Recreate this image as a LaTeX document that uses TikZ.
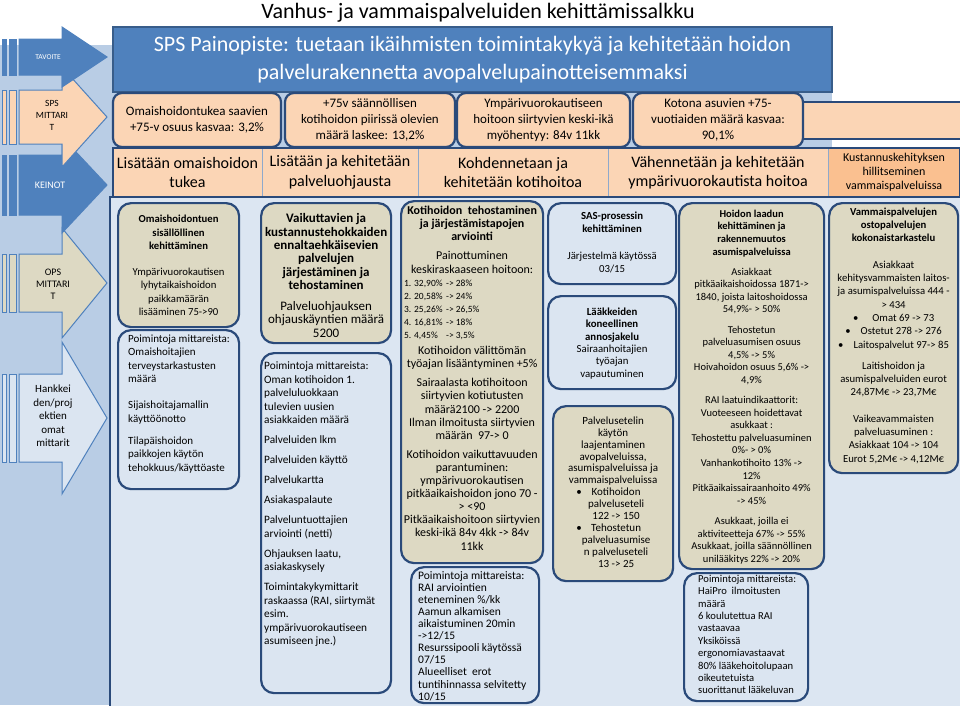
\documentclass[tikz,border=0pt]{standalone}
\usepackage{fontspec}
\setmainfont{Carlito}
\usepackage{xcolor}
\usepackage{tikz}
\usetikzlibrary{calc, positioning}

\definecolor{goalblue}{HTML}{4F81BD}
\definecolor{goalline}{HTML}{385D8A}
\definecolor{navyline}{HTML}{2A4A7A}
\definecolor{peachfill}{HTML}{FBD5B5}
\definecolor{peachdeep}{HTML}{FAC090}
\definecolor{tanfill}{HTML}{DDD9C3}
\definecolor{mistfill}{HTML}{DBE5F1}
\definecolor{panelfill}{HTML}{DCE6F2}
\definecolor{sidefill}{HTML}{B9CDE5}
\definecolor{cellline}{HTML}{8EA9CC}

\newcommand{\fsz}[2]{\fontsize{#1}{#2}\selectfont}

\begin{document}
\begin{tikzpicture}[
    x=1pt, y=-1pt,
    goal_box/.style={rectangle, draw=goalline, line width=1.2pt, fill=goalblue, text=white, align=center, font=\fsz{22}{28}},
    meter_box/.style={rectangle, rounded corners=9pt, draw=navyline, line width=2.2pt, fill=peachfill, minimum height=54pt, align=center, font=\fsz{13}{16}},
    means_cell/.style={rectangle, draw=cellline, line width=0.6pt, fill=peachfill, minimum height=49pt, align=center, font=\fsz{16}{19.5}},
    tan_box/.style={rectangle, rounded corners=13pt, draw=navyline, line width=2.2pt, fill=tanfill, anchor=north west},
    mist_box/.style={rectangle, rounded corners=13pt, draw=navyline, line width=2.2pt, fill=mistfill, anchor=north west},
    box_txt/.style={inner sep=0pt, align=center, anchor=north},
    list_txt/.style={inner sep=0pt, align=left, anchor=north west},
    side_arrow/.style={draw=goalblue, line width=1pt},
    side_txt/.style={inner sep=0pt, align=center}
]
    \useasboundingbox (0,0) rectangle (960,705);

    % ---------------- backgrounds ----------------
    \fill[sidefill] (0,45) rectangle (832,148);
    \fill[sidefill] (0,148) rectangle (113,705);
    \draw[fill=panelfill, draw=navyline, line width=1.2pt] (110,197) rectangle (962,707);

    % ---------------- left column arrows ----------------
    \foreach \cy/\bh/\hh/\tone in {418/44/76/mistfill, 283/29/55/tanfill, 185/30/48/goalblue, 117/27/50/peachfill, 57/18/30/goalblue}{
        \filldraw[side_arrow, fill=\tone] (2,{\cy-\bh}) rectangle (6,{\cy+\bh});
        \filldraw[side_arrow, fill=\tone] (9,{\cy-\bh}) rectangle (16,{\cy+\bh});
        \filldraw[side_arrow, fill=\tone] (19,{\cy-\bh}) -- (62,{\cy-\bh}) -- (62,{\cy-\hh}) -- (107,\cy) -- (62,{\cy+\hh}) -- (62,{\cy+\bh}) -- (19,{\cy+\bh}) -- cycle;
    }
    \node[side_txt, text=white, font=\fsz{7.5}{9}] (tavoite) at (48,57) {TAVOITE};
    \node[side_txt, font=\fsz{9.5}{12}] (spsmit) at (52,115) {SPS\\MITTARI\\T};
    \node[side_txt, text=white, font=\fsz{10}{12}] (keinot) at (50,185) {KEINOT};
    \node[side_txt, font=\fsz{10}{11.8}] (opsmit) at (53,284) {OPS\\MITTARI\\T};
    \node[side_txt, font=\fsz{11}{13.5}] (hanke) at (53,416) {Hankkei\\den/proj\\ektien\\omat\\mittarit};

    % ---------------- title and goal ----------------
    \node[font=\fsz{22}{26}] (title) at (478,13) {Vanhus- ja vammaispalveluiden kehittämissalkku};
    \node[goal_box, minimum width=719pt, minimum height=65pt] (goal) at (472.5,59.5) {SPS Painopiste: tuetaan ikäihmisten toimintakykyä ja kehitetään hoidon\\palvelurakennetta avopalvelupainotteisemmaksi};

    % ---------------- SPS mittarit ----------------
    \draw[fill=peachfill, draw=navyline, line width=1.5pt] (700,102) rectangle (962,139);
    \node[meter_box, minimum width=168pt] (m1) at (197,120) {Omaishoidontukea saavien\\+75-v osuus kasvaa: 3,2\%};
    \node[meter_box, minimum width=170pt] (m2) at (370,120) {+75v säännöllisen\\kotihoidon piirissä olevien\\määrä laskee: 13,2\%};
    \node[meter_box, minimum width=173pt] (m3) at (543.5,120) {Ympärivuorokautiseen\\hoitoon siirtyvien keski-ikä\\myöhentyy: 84v 11kk};
    \node[meter_box, minimum width=170pt] (m4) at (718,120) {Kotona asuvien +75-\\vuotiaiden määrä kasvaa:\\90,1\%};

    % ---------------- keinot ----------------
    \node[means_cell, minimum width=149pt] (k1) at (187.5,172.5) {Lisätään omaishoidon\\tukea};
    \node[means_cell, minimum width=156pt] (k2) at (340,172.5) {Lisätään ja kehitetään\\palveluohjausta};
    \node[means_cell, minimum width=190pt] (k3) at (513,172.5) {Kohdennetaan ja\\kehitetään kotihoitoa};
    \node[means_cell, minimum width=220pt] (k4) at (718,172.5) {Vähennetään ja kehitetään\\ympärivuorokautista hoitoa};
    \node[means_cell, minimum width=132pt, fill=peachdeep, font=\fsz{12}{14}] (k5) at (894,172.5) {Kustannuskehityksen\\hillitseminen\\vammaispalveluissa};
    \draw[navyline, line width=1.8pt] (k1.north west) rectangle (k5.south east);

    % ---------------- omaishoito ----------------
    \node[tan_box, minimum width=121pt, minimum height=124pt] (omtuki) at (117,202) {};
    \node[box_txt, font=\fsz{10.7}{13.4}, below=13pt of omtuki.north] (omtukitxt) {\textbf{Omaishoidontuen}\\\textbf{sisällöllinen}\\\textbf{kehittäminen}\\[12.5pt]Ympärivuorokautisen\\lyhytaikaishoidon\\paikkamäärän\\lisääminen 75->90};
    \node[mist_box, minimum width=121pt, minimum height=159pt] (ommit) at (117,329) {};
    \node[list_txt, font=\fsz{11}{13.5}, below right=5.5pt and 11pt of ommit.north west] (ommittxt) {Poimintoja mittareista:\\Omaishoitajien\\terveystarkastusten\\määrä\\[12.5pt]Sijaishoitajamallin\\käyttöönotto\\[8.5pt]Tilapäishoidon\\paikkojen käytön\\tehokkuus/käyttöaste};

    % ---------------- palveluohjaus ----------------
    \node[tan_box, minimum width=130pt, minimum height=140pt] (ennalt) at (260,202) {};
    \node[box_txt, font=\fsz{13}{13.3}, below=11.5pt of ennalt.north] (ennalttxt) {\textbf{Vaikuttavien ja}\\\textbf{kustannustehokkaiden}\\\textbf{ennaltaehkäisevien}\\\textbf{palvelujen}\\\textbf{järjestäminen ja}\\\textbf{tehostaminen}\\[8pt]Palveluohjauksen\\ohjauskäyntien määrä\\5200};
    \node[mist_box, minimum width=130pt, minimum height=340pt] (ohjmit) at (260,352) {};
    \node[list_txt, font=\fsz{11.3}{13.5}, below right=10pt and 4pt of ohjmit.north west] (ohjmittxt) {Poimintoja mittareista:\\Oman kotihoidon 1.\\palveluluokkaan\\tulevien uusien\\asiakkaiden määrä\\[6.5pt]Palveluiden lkm\\[6.5pt]Palveluiden käyttö\\[6.5pt]Palvelukartta\\[6.5pt]Asiakaspalaute\\[6.5pt]Palveluntuottajien\\arviointi (netti)\\[6.5pt]Ohjauksen laatu,\\asiakaskysely\\[6.5pt]Toimintakykymittarit\\raskaassa (RAI, siirtymät\\esim.\\ympärivuorokautiseen\\asumiseen jne.)};

    % ---------------- kotihoito ----------------
    \node[tan_box, minimum width=142pt, minimum height=362pt] (kotih) at (400,200) {};
    \node[box_txt, font=\fsz{12}{13.1}, below=6pt of kotih.north] (kotihtxt) {\textbf{Kotihoidon\ \ tehostaminen}\\\textbf{ja järjestämistapojen}\\\textbf{arviointi}\\[6pt]Painottuminen\\keskiraskaaseen hoitoon:\\\makebox[136pt][l]{\fsz{9.5}{13.1}\makebox[42pt][l]{1. 32,90\%}-> 28\%}\\\makebox[136pt][l]{\fsz{9.5}{13.1}\makebox[42pt][l]{2. 20,58\%}-> 24\%}\\\makebox[136pt][l]{\fsz{9.5}{13.1}\makebox[42pt][l]{3. 25,26\%}-> 26,5\%}\\\makebox[136pt][l]{\fsz{9.5}{13.1}\makebox[42pt][l]{4. 16,81\%}-> 18\%}\\\makebox[136pt][l]{\fsz{9.5}{13.1}\makebox[42pt][l]{5. 4,45\%}-> 3,5\%}\\[3pt]Kotihoidon välittömän\\työajan lisääntyminen +5\%\\[6pt]Sairaalasta kotihoitoon\\siirtyvien kotiutusten\\määrä2100 -> 2200\\Ilman ilmoitusta siirtyvien\\määrän\ \ 97-> 0\\[6pt]Kotihoidon vaikuttavuuden\\parantuminen:\\ympärivuorokautisen\\pitkäaikaishoidon jono 70 -\\> <90\\Pitkäaikaishoitoon siirtyvien\\keski-ikä 84v 4kk -> 84v\\11kk};
    \node[mist_box, minimum width=128pt, minimum height=136pt] (kotimit) at (410,566) {};
    \node[list_txt, font=\fsz{11.5}{12.1}, below right=5pt and 8pt of kotimit.north west] (kotimittxt) {Poimintoja mittareista:\\RAI arviointien\\eteneminen \%/kk\\Aamun alkamisen\\aikaistuminen 20min\\->12/15\\Resurssipooli käytössä\\07/15\\Alueelliset\ \ erot\\tuntihinnassa selvitetty\\10/15};

    % ---------------- SAS, annosjakelu, palveluseteli ----------------
    \node[mist_box, minimum width=128pt, minimum height=81pt] (sas) at (547,202) {};
    \node[box_txt, font=\fsz{10.8}{13}, below=9.6pt of sas.north] (sastxt) {\textbf{SAS-prosessin}\\\textbf{kehittäminen}\\[14pt]Järjestelmä käytössä\\03/15};
    \node[mist_box, minimum width=128pt, minimum height=93pt] (annos) at (547,295) {};
    \node[box_txt, font=\fsz{10.8}{12.4}, below=12.6pt of annos.north] (annostxt) {\textbf{Lääkkeiden}\\\textbf{koneellinen}\\\textbf{annosjakelu}\\Sairaanhoitajien\\työajan\\vapautuminen};
    \node[tan_box, minimum width=120pt, minimum height=175pt] (seteli) at (552,405) {};
    \node[box_txt, font=\fsz{11}{11.9}, below=11.5pt of seteli.north] (setelitxt) {Palvelusetelin\\käytön\\laajentaminen\\avopalveluissa,\\asumispalveluissa ja\\vammaispalveluissa\\\makebox[6pt]{\textbullet}\makebox[68pt]{Kotihoidon}\\\makebox[6pt]{}\makebox[68pt]{palveluseteli}\\\makebox[6pt]{}\makebox[68pt]{122 -> 150}\\\makebox[6pt]{\textbullet}\makebox[68pt]{Tehostetun}\\\makebox[6pt]{}\makebox[68pt]{palveluasumise}\\\makebox[6pt]{}\makebox[68pt]{n palveluseteli}\\\makebox[6pt]{}\makebox[68pt]{13 -> 25}};

    % ---------------- asumispalvelut ----------------
    \node[tan_box, minimum width=145pt, minimum height=366pt] (laatu) at (678,202) {};
    \node[box_txt, font=\fsz{10.5}{12.6}, below=7.7pt of laatu.north] (laatutxt) {\textbf{Hoidon laadun}\\\textbf{kehittäminen ja}\\\textbf{rakennemuutos}\\\textbf{asumispalveluissa}\\[7.5pt]Asiakkaat\\pitkäaikaishoidossa 1871->\\1840, joista laitoshoidossa\\54,9\%- > 50\%\\[7.5pt]Tehostetun\\palveluasumisen osuus\\4,5\% -> 5\%\\Hoivahoidon osuus 5,6\% ->\\4,9\%\\[7.5pt]RAI laatuindikaattorit:\\Vuoteeseen hoidettavat\\asukkaat :\\Tehostettu palveluasuminen\\0\%- > 0\%\\Vanhankotihoito 13\% ->\\12\%\\Pitkäaikaissairaanhoito 49\%\\-> 45\%\\[7.5pt]Asukkaat, joilla ei\\aktiviteetteja 67\% -> 55\%\\Asukkaat, joilla säännöllinen\\unilääkitys 22\% -> 20\%};
    \node[mist_box, minimum width=124pt, minimum height=128pt] (laatumit) at (683,572) {};
    \node[list_txt, font=\fsz{10.6}{12.4}, below right=2.7pt and 15pt of laatumit.north west] (laatumittxt) {Poimintoja mittareista:\\HaiPro\ \ ilmoitusten\\määrä\\6 koulutettua RAI\\vastaavaa\\Yksiköissä\\ergonomiavastaavat\\80\% lääkehoitolupaan\\oikeutetuista\\suorittanut lääkeluvan};

    % ---------------- vammaispalvelut ----------------
    \node[tan_box, minimum width=129pt, minimum height=270pt] (vammais) at (828,202) {};
    \node[box_txt, font=\fsz{10.7}{13.3}, below=5.6pt of vammais.north] (vammaistxt) {\textbf{Vammaispalvelujen}\\\textbf{ostopalvelujen}\\\textbf{kokonaistarkastelu}\\[13pt]Asiakkaat\\kehitysvammaisten laitos-\\ja asumispalveluissa 444 -\\> 434\\\textbullet\hspace{14pt}Omat 69 -> 73\\\textbullet\hspace{10pt}Ostetut 278 -> 276\\\textbullet\hspace{10pt}Laitospalvelut 97-> 85\\[8pt]Laitishoidon ja\\asumispalveluiden eurot\\24,87M€ -> 23,7M€\\[13pt]Vaikeavammaisten\\palveluasuminen :\\Asiakkaat 104 -> 104\\Eurot 5,2M€ -> 4,12M€};
\end{tikzpicture}
\end{document}
